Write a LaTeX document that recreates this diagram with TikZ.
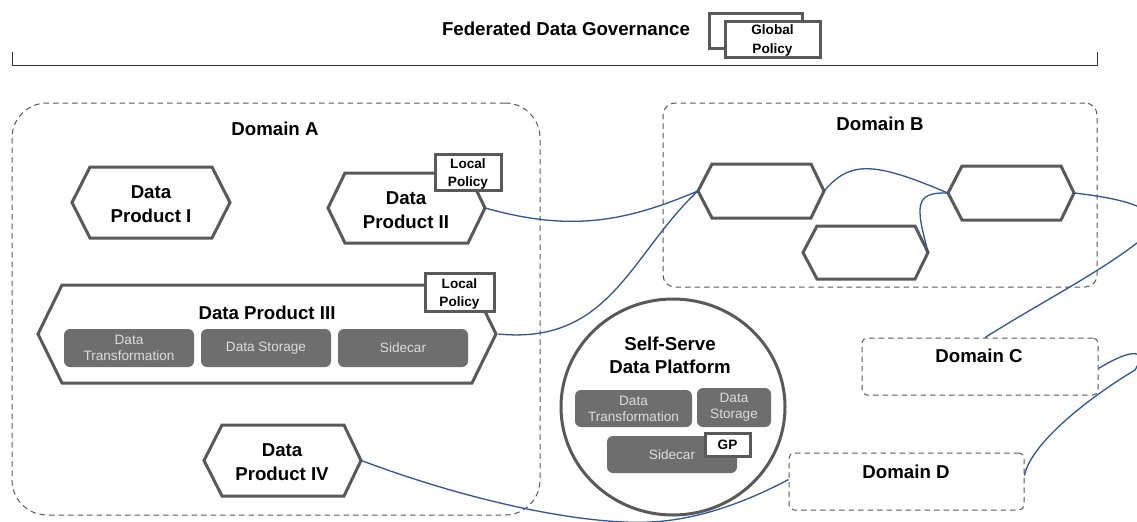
\documentclass[tikz,border=0pt]{standalone}
\usepackage{fontspec}
\usetikzlibrary{shapes.geometric}
\setmainfont{Liberation Sans}
\def\px{0.75pt}
\colorlet{hexgray}{black!65}
\definecolor{linkblue}{HTML}{2F5597}
\definecolor{boxgray}{HTML}{6E6E6E}
\definecolor{boxtext}{HTML}{DDDDDD}
\tikzset{
  hexline/.style={draw=hexgray,line width=3*\px,fill=white,line join=miter},
  link/.style={draw=linkblue,line width=1.3*\px},
  domainbox/.style={draw=black!65,line width=1*\px,dash pattern=on 5.5*\px off 4*\px,inner sep=0pt},
  graybox/.style={fill=boxgray,rounded corners=6*\px,text=boxtext,align=center,inner sep=0pt,font=\fontsize{10.2pt}{12pt}\selectfont},
  policybox/.style={draw=hexgray,line width=3*\px,fill=white,align=center,inner sep=0pt,font=\bfseries\fontsize{10.2pt}{13.4pt}\selectfont},
  policytext/.style={align=center,inner sep=0pt,font=\bfseries\fontsize{10.2pt}{13.6pt}\selectfont},
  title/.style={align=center,inner sep=0pt,font=\bfseries\fontsize{14pt}{17.3pt}\selectfont},
  hextext/.style={align=center,inner sep=0pt,font=\bfseries\fontsize{14pt}{18pt}\selectfont},
  ghost/.style={inner sep=0pt}
}
\newcommand{\Bx}[7][]{%
  \pgfmathsetmacro{\cxx}{(#4+#6)/2}\pgfmathsetmacro{\cyy}{(#5+#7)/2}%
  \pgfmathsetmacro{\wdd}{#6-#4}\pgfmathsetmacro{\htt}{#7-#5}%
  \node[#1,minimum width=\wdd*\px,minimum height=\htt*\px] (#2) at (\cxx,\cyy) {#3};}
% name, left, inner-left, inner-right, right, top, bottom
\newcommand{\Hx}[7]{%
  \pgfmathsetmacro{\myy}{(#6+#7)/2}%
  \draw[hexline] (#2,\myy) -- (#3,#6) -- (#4,#6) -- (#5,\myy) -- (#4,#7) -- (#3,#7) -- cycle;%
  \Bx[ghost]{#1}{}{#2}{#6}{#5}{#7}}
\begin{document}
\begin{tikzpicture}[x=0.75pt,y=-0.75pt]
\clip (0,0) rectangle (1137,521);
\useasboundingbox (0,0) rectangle (1137,521);
\fill[white] (0,0) rectangle (1137,521);

% governance bracket
\coordinate (brA) at (12,52);
\coordinate (brB) at (1097,52);
\draw[black!80,line width=1*\px] (brA) -- (12,65) -- (1097,65) -- (brB);
\node[title] (gov) at (566,29) {Federated Data Governance};
\Bx[policybox]{gpback}{}{709}{13}{802}{48}
\Bx[policybox]{gpfront}{}{725}{21}{820}{57}
\node[policytext] (gptext) at (772.5,40.5) {Global\\Policy};

% domains
\Bx[domainbox,rounded corners=35*\px]{domA}{}{12}{103}{540}{515}
\Bx[domainbox,rounded corners=12*\px]{domB}{}{663}{103}{1097}{287}
\Bx[domainbox,rounded corners=5*\px,fill=white]{domC}{}{862}{338}{1098}{395}
\Bx[domainbox,rounded corners=5*\px,fill=white]{domD}{}{789}{453}{1024}{510}
\node[title] (labA) at (275,129) {Domain A};
\node[title] (labB) at (880,124) {Domain B};
\node[title] (labC) at (979,356) {Domain C};
\node[title] (labD) at (906,472) {Domain D};

% hexagons
\Hx{dpi}{72}{90}{212}{230}{167}{238}
\Hx{dpii}{328}{345}{468}{485}{173}{243}
\Hx{dpiii}{38}{62}{472}{496}{285}{383}
\Hx{dpiv}{204}{222}{344}{361}{425}{496}
\Hx{bi}{698}{712}{811}{824}{164}{218}
\Hx{bii}{948}{962}{1061}{1074}{166}{220}
\Hx{biii}{803}{817}{915}{928}{226}{279}

\node[hextext] (tdpi) at (151,204) {Data\\Product I};
\node[hextext] (tdpii) at (406,210) {Data\\Product II};
\node[hextext] (tdpiii) at (267,313) {Data Product III};
\node[hextext] (tdpiv) at (282,462) {Data\\Product IV};

\Bx[policybox]{lpii}{}{435}{154}{501}{190}
\node[policytext] (lpiit) at (468,174) {Local\\Policy};
\Bx[policybox]{lpiii}{}{425}{273}{494}{311}
\node[policytext] (lpiiit) at (459.5,294) {Local\\Policy};

\Bx[graybox]{dt}{Data\\Transformation}{64}{329}{194}{367}
\Bx[graybox]{ds}{Data Storage}{201}{329}{331}{367}
\Bx[graybox]{sc}{Sidecar}{338}{329}{468}{367}

% platform
\node[draw=hexgray,line width=3*\px,fill=white,ellipse,inner sep=0pt,minimum width=224*\px,minimum height=216*\px] (plat) at (673,407) {};
\node[title] (tplat) at (670,355) {Self-Serve\\Data Platform};
\Bx[graybox]{pdt}{Data\\Transformation}{575}{390}{692}{427}
\Bx[graybox]{pds}{Data\\Storage}{697}{388}{771}{427}
\Bx[graybox]{psc}{Sidecar}{607}{436}{737}{473}
\Bx[policybox]{gp}{GP}{705}{433}{750}{456}

% connectors
\draw[link] (dpii.east) .. controls (570,232) and (625,222) .. (bi.west);
\draw[link] ([xshift=2*\px]dpiii.east) .. controls (610,345) and (630,255) .. (bi.west);
\draw[link] (bi.east) .. controls (850,160) and (875,162) .. (bii.west);
\draw[link] (biii.east) .. controls (915,205) and (915,192) .. (bii.west);
\draw[link] ([xshift=5*\px]domC.north) .. controls (1045,300) and (1095,275) .. (1137,243) .. controls (1180,210) and (1125,199) .. (bii.east);
\draw[link] ([yshift=-2*\px]domC.east) .. controls (1125,352) and (1150,345) .. (1135,370) .. controls (1085,400) and (1030,445) .. ([yshift=6*\px]domD.east);
\draw[link] (dpiv.east) .. controls (480,505) and (590,525) .. (650,522) .. controls (700,520) and (750,500) .. ([yshift=2*\px]domD.west);
\end{tikzpicture}
\end{document}
